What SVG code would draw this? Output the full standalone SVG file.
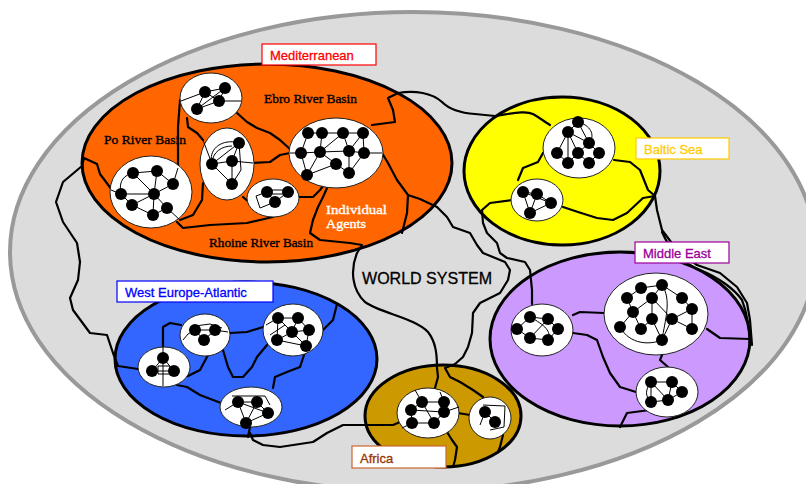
<svg xmlns="http://www.w3.org/2000/svg" width="806" height="484" viewBox="0 0 806 484">
<style>
.reg{stroke:#000;stroke-width:3}
.com{fill:#fff;stroke:#222;stroke-width:1}
.dot{fill:#000}
.ie{fill:none;stroke:#000;stroke-width:1}
.cn{fill:none;stroke:#000;stroke-width:2.2;stroke-linejoin:round;stroke-linecap:round}
.lb{font-family:"Liberation Sans",Arial,sans-serif;font-size:13px;stroke-width:0.3}
.box{fill:#fff;stroke-width:1.2}
.ser{font-family:"Liberation Serif","Times New Roman",serif;font-size:12.5px;fill:#000;stroke:#000;stroke-width:0.35}
.wser{fill:#fff;stroke:#fff}
</style>
<rect x="0" y="0" width="806" height="484" fill="#fff"/>
<ellipse id="world" cx="413" cy="252" rx="403" ry="240" fill="#dcdcdc" stroke="#999" stroke-width="4"/>

<g id="regions">
<ellipse id="mediterranean" class="reg" cx="267" cy="163" rx="185" ry="99" fill="#ff6600"/>
<ellipse id="baltic" class="reg" cx="562" cy="171" rx="98" ry="74" fill="#ffff00"/>
<ellipse id="middleeast" class="reg" cx="620" cy="339" rx="130" ry="87" fill="#cc99ff"/>
<ellipse id="westeurope" class="reg" cx="246" cy="359" rx="131" ry="77" fill="#3366ff"/>
<ellipse id="africa" class="reg" cx="443" cy="416" rx="78" ry="51" fill="#cc9900"/>
</g>

<g id="connectors">
<path class="cn" d="M372,125 L395,122 L393,110 L388,98 L398,93 C415,90 432,93 442,102 C450,110 460,113 475,114 L495,116 C510,114 525,110 533,114 C540,118 545,122 550,125"/>
<path class="cn" d="M112,190 L100,174 L97,164 L84,158 L82,166 L63,182 L56,202 L63,222 L77,243 L80,262 L78,280 L70,298 L73,310 L90,333 L107,335 L113,353 L118,366 L138,369"/>
<path class="cn" d="M327,188 L323,197 L318,207 L313,220 L310,233 L320,240 L350,243 L362,245 L357,253 C350,270 352,290 365,302 C380,313 415,318 428,332 C436,342 437,355 437,368 L438,377 L435,388"/>
<path class="cn" d="M382,153 L388,163 L397,180 L408,195 L407,213 L402,233"/>
<path class="cn" d="M408,195 L420,199 L437,207 L447,217 L453,227 L470,233 L477,245 L483,253 L505,262 L510,270 L508,280 L500,293 L480,303 L473,313 L472,333 L468,347 L463,357 L455,364 L445,368 L450,377 L460,382 L473,390 L483,397"/>
<path class="cn" d="M512,200 L490,203 L482,210 L483,223 L487,233 L497,243 L500,253 L507,258 L525,262 L530,270 L532,290 L532,304"/>
<path class="cn" d="M543,153 L538,162 L523,168 L518,180"/>
<path class="cn" d="M614,160 L630,162 L640,170 L648,190 L655,196"/>
<path class="cn" d="M563,207 L578,212 L597,218 L613,220 L627,213 L643,198 L655,196"/>
<path class="cn" d="M655,196 L657,210 L662,230 L677,250 L697,265 L720,273 L737,287 L747,303 L750,320 L752,345"/>
<path class="cn" d="M662,232 C670,250 680,262 700,270 C720,278 735,290 742,300 C748,315 749,330 750,345"/>
<path class="cn" d="M573,315 L580,312 L604,313"/>
<path class="cn" d="M573,333 L587,335 L597,340 L603,357 L610,373 L620,387 L636,392"/>
<path class="cn" d="M662,355 L660,360 L668,367"/>
<path class="cn" d="M707,329 L720,338 L750,339"/>
<path class="cn" d="M650,410 L627,413 L620,427"/>
<path class="cn" d="M250,433 L253,440 L263,445 L280,447 L313,442 L327,433 L343,425 L367,425 L393,425 L400,422"/>
<path class="cn" d="M447,432 L452,440 L457,447 L455,460 L453,467"/>
<path class="cn" d="M503,435 L500,447 L498,452"/>
<path class="cn" d="M458,413 L470,415"/>
<path class="cn" d="M163,350 L163,327 L170,323 L181,325"/>
<path class="cn" d="M230,333 L247,332 L263,327"/>
<path class="cn" d="M208,355 L200,370 L188,376"/>
<path class="cn" d="M223,350 L228,367 L233,377 L243,377 L252,367 L257,357 L267,345"/>
<path class="cn" d="M305,352 L300,367 L287,372 L275,377 L273,388"/>
<path class="cn" d="M323,330 L333,320 L337,304"/>
<path class="cn" d="M177,385 L187,387 L200,395 L221,403"/>
<path class="cn" d="M250,427 L248,437"/>
<path class="cn" d="M180,100 L178,127 L178,168"/>
<path class="cn" d="M187,118 L188,127 L197,133 L203,140"/>
<path class="cn" d="M237,113 L247,122 L257,128 L270,133 L280,140 L291,150"/>
<path class="cn" d="M253,163 L270,162 L280,155 L290,153"/>
<path class="cn" d="M180,220 L193,215 L202,200 L203,183"/>
<path class="cn" d="M177,222 L183,228 L210,225 L247,223 L273,217"/>
<path class="cn" d="M298,197 L313,197 L320,190 L323,186"/>
<path class="cn" d="M243,197 L250,203"/>
</g>

<g id="com-med-1">
<ellipse class="com" cx="211" cy="98" rx="31" ry="25"/>
<path class="ie" d="M181,101 L205,92 L225,88 L219,101 L205,92 M205,92 L197,109 L219,101 L241,101 M197,109 L225,88"/>
<circle class="dot" cx="205" cy="92" r="6"/><circle class="dot" cx="225" cy="88" r="6"/><circle class="dot" cx="219" cy="101" r="6"/><circle class="dot" cx="197" cy="109" r="6"/>
</g>
<g id="com-po">
<ellipse class="com" cx="151" cy="192" rx="41" ry="36"/>
<path class="ie" d="M133,173 L157,171 L173,184 L154,194 L133,173 M157,171 L154,194 M121,194 L154,194 L132,205 L121,194 M154,194 L167,208 L153,215 L154,194 M132,205 L153,215 M121,194 C118,180 125,175 133,173 M111,190 L121,194 M173,184 L178,168 M167,208 L180,220"/>
<circle class="dot" cx="133" cy="173" r="6"/><circle class="dot" cx="157" cy="171" r="6"/><circle class="dot" cx="173" cy="184" r="6"/><circle class="dot" cx="121" cy="194" r="6"/><circle class="dot" cx="154" cy="194" r="6"/><circle class="dot" cx="132" cy="205" r="6"/><circle class="dot" cx="167" cy="208" r="6"/><circle class="dot" cx="153" cy="215" r="6"/>
</g>
<g id="com-med-3">
<ellipse class="com" cx="227" cy="164" rx="27" ry="36"/>
<path class="ie" d="M239,143 L232,161 L212,164 L239,143 M212,164 L232,184 L232,161 M239,143 L241,170 L232,184 M212,164 C208,150 220,140 235,142 M212,164 C212,152 222,146 232,146 M232,161 L253,163 M203,140 L212,164"/>
<circle class="dot" cx="239" cy="143" r="6"/><circle class="dot" cx="232" cy="161" r="6"/><circle class="dot" cx="212" cy="164" r="6"/><circle class="dot" cx="232" cy="184" r="6"/>
</g>
<g id="com-med-4">
<ellipse class="com" cx="273" cy="198" rx="26" ry="19"/>
<path class="ie" d="M267,190 L288,190 M267,194 L288,194 M267,192 L275,202 L288,192 M267,192 L256,196 L260,208 L275,202"/>
<circle class="dot" cx="267" cy="192" r="6"/><circle class="dot" cx="288" cy="192" r="6"/><circle class="dot" cx="275" cy="202" r="6"/>
</g>
<g id="com-med-5">
<ellipse class="com" cx="336" cy="153" rx="47" ry="35"/>
<path class="ie" d="M308,133 L322,133 L343,133 L363,133 M308,133 L301,153 L320,152 L349,151 L364,153 L363,133 M322,133 L320,152 L343,133 L349,151 L363,133 M320,152 L336,164 L349,173 L349,151 M320,152 L307,175 L336,164 M364,153 L349,173 M301,153 L307,175 M290,153 L301,153 M364,153 L382,153"/>
<circle class="dot" cx="308" cy="133" r="6"/><circle class="dot" cx="322" cy="133" r="6"/><circle class="dot" cx="343" cy="133" r="6"/><circle class="dot" cx="363" cy="133" r="6"/><circle class="dot" cx="301" cy="153" r="6"/><circle class="dot" cx="320" cy="152" r="6"/><circle class="dot" cx="349" cy="151" r="6"/><circle class="dot" cx="364" cy="153" r="6"/><circle class="dot" cx="336" cy="164" r="6"/><circle class="dot" cx="307" cy="175" r="6"/><circle class="dot" cx="349" cy="173" r="6"/>
</g>

<g id="com-baltic-1">
<ellipse class="com" cx="579" cy="148" rx="36" ry="30"/>
<path class="ie" d="M578,122 L568,132 L589,143 L578,122 M568,132 L557,153 L568,163 L578,153 L568,132 M589,143 L578,153 L589,163 L599,153 L589,143 M568,132 L568,163 M578,122 C590,125 596,135 589,143"/>
<circle class="dot" cx="578" cy="122" r="6"/><circle class="dot" cx="568" cy="132" r="6"/><circle class="dot" cx="589" cy="143" r="6"/><circle class="dot" cx="557" cy="153" r="6"/><circle class="dot" cx="578" cy="153" r="6"/><circle class="dot" cx="599" cy="153" r="6"/><circle class="dot" cx="568" cy="163" r="6"/><circle class="dot" cx="589" cy="163" r="6"/>
</g>
<g id="com-baltic-2">
<ellipse class="com" cx="537" cy="200" rx="26" ry="21"/>
<path class="ie" d="M523,192 L537,194 L551,203 L530,213 L523,192 M537,194 L530,213 M523,192 L551,203"/>
<circle class="dot" cx="523" cy="192" r="6"/><circle class="dot" cx="537" cy="194" r="6"/><circle class="dot" cx="551" cy="203" r="6"/><circle class="dot" cx="530" cy="213" r="6"/>
</g>

<g id="com-me-1">
<ellipse class="com" cx="542" cy="330" rx="31" ry="26"/>
<path class="ie" d="M530,317 L548,319 L558,329 L548,340 L530,338 L517,329 L530,317 M548,319 L530,338 M530,317 C545,325 552,332 548,340 M517,329 L511,330"/>
<circle class="dot" cx="530" cy="317" r="6"/><circle class="dot" cx="548" cy="319" r="6"/><circle class="dot" cx="517" cy="329" r="6"/><circle class="dot" cx="558" cy="329" r="6"/><circle class="dot" cx="530" cy="338" r="6"/><circle class="dot" cx="548" cy="340" r="6"/>
</g>
<g id="com-me-2">
<ellipse class="com" cx="656" cy="314" rx="52" ry="41"/>
<path class="ie" d="M641,288 L662,285 L682,298 L692,309 L692,329 M641,288 L627,298 L633,312 L620,327 M662,285 L652,298 L633,312 L641,329 L652,319 L652,298 M652,319 L662,340 L672,319 L692,309 M672,319 L692,329 M652,298 L672,319 M620,327 C630,345 650,345 662,340 M662,285 C672,300 665,320 662,340"/>
<circle class="dot" cx="641" cy="288" r="6"/><circle class="dot" cx="662" cy="285" r="6"/><circle class="dot" cx="627" cy="298" r="6"/><circle class="dot" cx="652" cy="298" r="6"/><circle class="dot" cx="682" cy="298" r="6"/><circle class="dot" cx="633" cy="312" r="6"/><circle class="dot" cx="692" cy="309" r="6"/><circle class="dot" cx="652" cy="319" r="6"/><circle class="dot" cx="672" cy="319" r="6"/><circle class="dot" cx="620" cy="327" r="6"/><circle class="dot" cx="641" cy="329" r="6"/><circle class="dot" cx="692" cy="329" r="6"/><circle class="dot" cx="662" cy="340" r="6"/>
</g>
<g id="com-me-3">
<ellipse class="com" cx="667" cy="392" rx="31" ry="25"/>
<path class="ie" d="M651,382 L672,382 L682,392 L668,400 L651,402 L651,382 L668,400 L672,382 M651,382 C645,390 645,396 651,402"/>
<circle class="dot" cx="651" cy="382" r="6"/><circle class="dot" cx="672" cy="382" r="6"/><circle class="dot" cx="682" cy="392" r="6"/><circle class="dot" cx="668" cy="400" r="6"/><circle class="dot" cx="651" cy="402" r="6"/>
</g>

<g id="com-we-1">
<ellipse class="com" cx="164" cy="367" rx="26" ry="20"/>
<path class="ie" d="M163,347 L163,386 M163,358 L152,371 L174,371 L163,358 M158,366 L170,366 L170,374 L158,374 Z"/>
<circle class="dot" cx="163" cy="358" r="6"/><circle class="dot" cx="152" cy="371" r="6"/><circle class="dot" cx="174" cy="371" r="6"/>
</g>
<g id="com-we-2">
<ellipse class="com" cx="205" cy="335" rx="25" ry="21"/>
<path class="ie" d="M195,330 L215,330 L204,340 L195,330 M195,330 L188,334 L183,340 M215,330 L228,332 M195,326 L210,324 L222,328"/>
<circle class="dot" cx="195" cy="330" r="6"/><circle class="dot" cx="215" cy="330" r="6"/><circle class="dot" cx="204" cy="340" r="6"/>
</g>
<g id="com-we-3">
<ellipse class="com" cx="293" cy="330" rx="30" ry="26"/>
<path class="ie" d="M278,318 L298,318 L309,330 L306,346 L277,340 L278,318 L292,332 L298,318 M292,332 L309,330 M292,332 L277,340 M292,332 L306,346 M266,325 L278,318 M270,335 L285,325 L300,340"/>
<circle class="dot" cx="278" cy="318" r="6"/><circle class="dot" cx="298" cy="318" r="6"/><circle class="dot" cx="292" cy="332" r="6"/><circle class="dot" cx="309" cy="330" r="6"/><circle class="dot" cx="277" cy="340" r="6"/><circle class="dot" cx="306" cy="346" r="6"/>
</g>
<g id="com-we-4">
<ellipse class="com" cx="251" cy="407" rx="31" ry="20"/>
<path class="ie" d="M238,402 L257,402 L268,413 L246,423 L238,402 M257,402 L246,423 M238,402 L268,413 M232,396 L265,396 L270,405 M225,410 L238,402"/>
<circle class="dot" cx="238" cy="402" r="6"/><circle class="dot" cx="257" cy="402" r="6"/><circle class="dot" cx="268" cy="413" r="6"/><circle class="dot" cx="246" cy="423" r="6"/>
</g>

<g id="com-af-1">
<ellipse class="com" cx="428" cy="413" rx="31" ry="25"/>
<path class="ie" d="M422,402 L444,402 L444,412 L434,423 L412,423 L411,410 L422,402 L434,423 M411,410 L444,412 M415,390 L422,402 M440,392 L444,402 M444,412 L459,407 M412,423 L402,428"/>
<circle class="dot" cx="422" cy="402" r="6"/><circle class="dot" cx="444" cy="402" r="6"/><circle class="dot" cx="411" cy="410" r="6"/><circle class="dot" cx="444" cy="412" r="6"/><circle class="dot" cx="412" cy="423" r="6"/><circle class="dot" cx="434" cy="423" r="6"/>
</g>
<g id="com-af-2">
<ellipse class="com" cx="490" cy="418" rx="21" ry="21"/>
<path class="ie" d="M485,412 L495,422 M483,405 L505,406 L504,427 L490,430 M485,412 L480,425"/>
<circle class="dot" cx="485" cy="412" r="6"/><circle class="dot" cx="495" cy="422" r="6"/>
</g>

<g id="labels">
<g id="lab-med"><rect class="box" x="262" y="44" width="114" height="21" stroke="#ff0000"/><text class="lb" x="270" y="60" fill="#ff0000" stroke="#ff0000">Mediterranean</text></g>
<g id="lab-baltic"><rect class="box" x="636" y="138" width="93" height="21" stroke="#ffcc00"/><text class="lb" x="644" y="154" fill="#ffcc00" stroke="#ffcc00">Baltic Sea</text></g>
<g id="lab-me"><rect class="box" x="635" y="242" width="94" height="21" stroke="#990099"/><text class="lb" x="643" y="258" fill="#990099" stroke="#990099">Middle East</text></g>
<g id="lab-we"><rect class="box" x="117" y="281" width="156" height="21" stroke="#0000ff"/><text class="lb" x="125" y="297" fill="#0000ff" stroke="#0000ff">West Europe-Atlantic</text></g>
<g id="lab-af"><rect class="box" x="352" y="446" width="94" height="22" stroke="#cc6633"/><text class="lb" x="360" y="463" fill="#993300" stroke="#993300">Africa</text></g>
<text class="ser" x="264" y="103" textLength="93" lengthAdjust="spacingAndGlyphs">Ebro River Basin</text>
<text class="ser" x="104" y="144" textLength="82" lengthAdjust="spacingAndGlyphs">Po River Basin</text>
<text class="ser" x="209" y="247" textLength="104" lengthAdjust="spacingAndGlyphs">Rhoine River Basin</text>
<text class="ser wser" x="326" y="214" textLength="61" lengthAdjust="spacingAndGlyphs">Individual</text>
<text class="ser wser" x="326" y="228" textLength="40" lengthAdjust="spacingAndGlyphs">Agents</text>
<text x="362" y="284" font-family="Liberation Sans, Arial, sans-serif" font-size="16" fill="#000" stroke="#000" stroke-width="0.3" textLength="130" lengthAdjust="spacingAndGlyphs">WORLD SYSTEM</text>
</g>
</svg>
